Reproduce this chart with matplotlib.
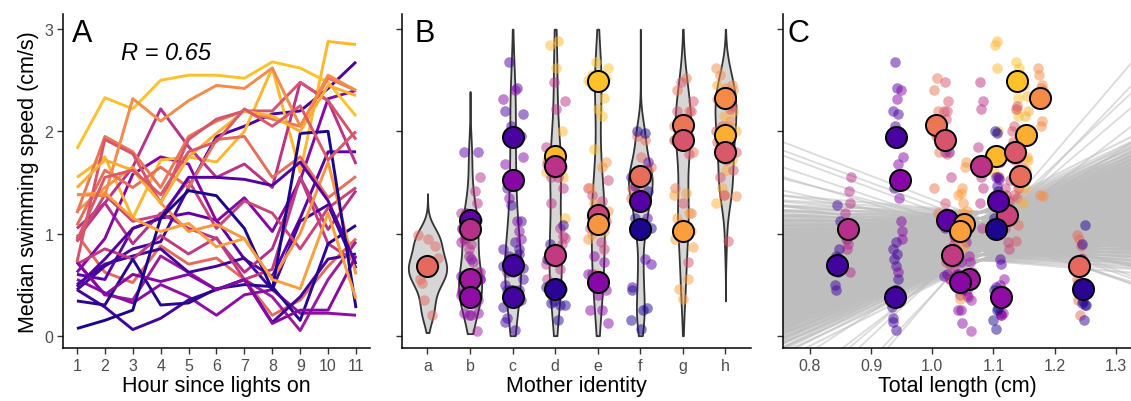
import numpy as np
import matplotlib.pyplot as plt

plt.rcParams['font.family'] = ['Liberation Sans', 'DejaVu Sans']

# ------------------- data -------------------
hours = list(range(1, 12))
mothers = ['a', 'b', 'c', 'd', 'e', 'f', 'g', 'h']

# one entry per fish
fish_mother = ['a', 'b', 'b', 'b', 'b', 'c', 'c', 'c', 'c', 'd', 'd', 'd', 'd',
               'e', 'e', 'e', 'e', 'f', 'f', 'f', 'g', 'g', 'g', 'h', 'h', 'h']
fish_length = [1.240, 1.024, 0.862, 1.060, 1.113, 0.940, 0.947, 0.845, 0.939,
               1.105, 1.079, 1.033, 1.247, 1.138, 1.123, 1.052, 1.045,
               1.143, 1.108, 1.104, 1.006, 1.021, 1.046, 1.177, 1.153, 1.135]
fish_median = [0.68, 1.13, 1.04, 0.55, 0.38, 1.94, 1.52, 0.69, 0.38,
               1.76, 1.66, 0.79, 0.46, 2.49, 1.18, 1.09, 0.53,
               1.56, 1.32, 1.04, 2.06, 1.92, 1.02, 2.33, 1.96, 1.80]
fish_colour = [0.62, 0.17, 0.42, 0.34, 0.30, 0.12, 0.27, 0.10, 0.10,
               0.84, 0.43, 0.46, 0.05, 0.87, 0.49, 0.75, 0.28,
               0.63, 0.15, 0.02, 0.66, 0.55, 0.78, 0.72, 0.82, 0.56]

# median speed per hour (cm/s), hours 1..11
speed_by_hour = [
    [0.99, 0.62, 0.52, 0.88, 0.70, 0.76, 0.55, 0.20, 0.35, 0.68, 0.95],   # a
    [0.60, 0.55, 1.05, 1.15, 1.20, 1.13, 0.75, 0.58, 1.15, 1.80, 1.80],   # b
    [0.95, 1.30, 0.90, 1.20, 1.05, 0.95, 0.62, 0.85, 1.55, 1.04, 1.42],
    [0.72, 0.40, 0.35, 0.78, 0.62, 0.45, 0.55, 0.38, 0.05, 0.55, 0.92],
    [0.55, 0.42, 0.32, 0.50, 0.38, 0.20, 0.40, 0.45, 0.22, 0.22, 0.20],
    [0.45, 0.68, 0.85, 0.92, 1.45, 1.95, 2.05, 2.17, 2.20, 2.42, 2.68],   # c
    [0.62, 0.95, 1.58, 1.75, 1.68, 1.12, 1.35, 1.02, 1.52, 2.32, 2.40],
    [0.50, 0.70, 0.78, 0.85, 0.62, 0.68, 0.76, 0.45, 1.12, 1.28, 0.66],
    [0.45, 0.28, 0.06, 0.17, 0.35, 0.45, 0.55, 0.13, 0.38, 0.75, 0.80],
    [1.55, 1.75, 1.15, 1.72, 1.75, 1.70, 2.00, 2.62, 1.60, 2.88, 2.85],   # d
    [1.05, 1.30, 1.65, 2.22, 1.85, 1.55, 1.68, 1.45, 2.48, 2.30, 1.68],
    [0.70, 0.85, 0.75, 0.98, 0.80, 0.96, 0.55, 0.65, 1.55, 0.90, 0.72],
    [0.34, 0.30, 0.75, 0.30, 0.32, 0.46, 0.50, 0.48, 0.15, 0.90, 1.08],
    [1.83, 2.33, 2.22, 2.50, 2.55, 2.55, 2.52, 2.68, 2.62, 2.48, 2.15],   # e
    [0.92, 1.38, 1.12, 1.18, 1.52, 1.05, 1.32, 1.20, 0.85, 1.25, 1.45],
    [1.22, 1.45, 1.65, 1.30, 1.02, 1.09, 0.95, 0.55, 1.00, 1.70, 0.60],
    [0.72, 0.40, 0.60, 0.53, 0.60, 0.45, 0.55, 0.12, 0.25, 0.25, 0.78],
    [1.08, 1.62, 1.45, 1.65, 1.45, 1.92, 1.95, 1.55, 1.75, 1.35, 1.56],   # f
    [0.48, 0.75, 1.05, 1.15, 1.55, 1.55, 1.53, 1.47, 1.70, 1.32, 0.70],
    [0.07, 0.15, 0.25, 1.15, 1.42, 1.37, 1.05, 0.45, 1.98, 2.00, 0.27],
    [1.20, 1.95, 1.80, 1.45, 1.95, 2.10, 2.20, 2.12, 2.05, 2.52, 2.40],   # g
    [0.72, 1.92, 1.78, 1.30, 1.92, 2.12, 2.20, 2.20, 2.48, 2.30, 1.92],
    [1.38, 1.40, 1.15, 1.02, 1.10, 0.87, 0.95, 0.55, 0.46, 1.20, 0.36],
    [1.38, 1.37, 2.32, 2.10, 2.30, 2.45, 2.42, 2.62, 2.05, 2.55, 2.40],   # h
    [1.45, 1.72, 1.62, 1.30, 1.75, 1.98, 2.20, 2.15, 2.00, 2.45, 2.35],
    [0.93, 1.55, 1.62, 1.38, 1.80, 1.90, 2.22, 2.05, 2.25, 1.72, 2.00],
]

# violin extents per mother
violin_lo = [0.03, 0.02, 0.0, 0.0, 0.0, 0.0, 0.0, 0.34]
violin_hi = [1.39, 2.39, 3.0, 3.0, 3.0, 3.0, 3.0, 3.0]

# posterior regression lines for panel C (value at fit_x0, slope)
fit_x0 = 1.08
fit_intercepts = [0.74, 0.79, 0.83, 0.86, 0.89, 0.92, 0.95, 0.98, 1.01,
                  1.04, 1.07, 1.11, 1.15, 1.21]
fit_slopes = [-0.5, -0.35, -0.2, -0.05, 0.1, 0.25, 0.4, 0.55, 0.7, 0.85, 1.0,
              1.15, 1.3, 1.45, 1.6, 1.75, 1.9, 2.05, 2.2, 2.35, 2.5, 2.65,
              2.8, 3.0]
# the few draws outside the dense band
fit_outer_a = [1.15, 1.10, 1.05, 1.00, 0.95, 0.95, 0.90, 1.00, 0.98, 0.92,
               1.05, 1.00, 0.97, 1.08, 0.93]
fit_outer_b = [-2.3, -2.2, -1.5, -1.3, -1.0, 7.0, 6.3, 5.6, 5.1, 4.6,
               -2.2, -2.0, -1.8, -0.9, 3.9]

# fixed jitter pattern (positions only)
jitter = [-0.20, 0.06, -0.12, 0.17, -0.03, 0.22, -0.17, 0.10, -0.08, 0.14, 0.01]

# ------------------- style -------------------
cmap = plt.cm.plasma
tick_col = '#4d4d4d'
title_fs = 15.5
tick_fs = 11.5
small_s = 58
big_s = 230

fig = plt.figure(figsize=(11.31, 4.02), dpi=100)
axA = fig.add_axes([0.0557, 0.132, 0.2714, 0.831])
axB = fig.add_axes([0.3554, 0.132, 0.3086, 0.831])
axC = fig.add_axes([0.6923, 0.132, 0.3077, 0.831])

for ax in (axA, axB, axC):
    for s in ('top', 'right'):
        ax.spines[s].set_visible(False)
    for s in ('left', 'bottom'):
        ax.spines[s].set_linewidth(1.1)
    ax.tick_params(length=4, width=1.0, color='#333333', labelcolor=tick_col,
                   labelsize=tick_fs, pad=3)
    ax.set_ylim(-0.12, 3.15)
    ax.set_yticks([0, 1, 2, 3])

# ------------------- panel A -------------------
for i, sp in enumerate(speed_by_hour):
    axA.plot(hours, sp, color=cmap(fish_colour[i]), lw=2.1, solid_capstyle='butt')
axA.set_xlim(0.5, 11.5)
axA.set_xticks(hours)
axA.set_xlabel('Hour since lights on', fontsize=title_fs, labelpad=2)
axA.set_ylabel('Median swimming speed (cm/s)', fontsize=title_fs, labelpad=4)
axA.text(0.03, 0.919, 'A', transform=axA.transAxes, fontsize=22)
axA.text(0.189, 0.865, 'R = 0.65', transform=axA.transAxes, fontsize=17,
         style='italic')

# ------------------- panel B -------------------
def kde(vals, grid):
    vals = np.asarray(vals)
    n = len(vals)
    sd = vals.std(ddof=1)
    q75, q25 = np.percentile(vals, [75, 25])
    bw = 0.9 * min(sd, (q75 - q25) / 1.34) * n ** -0.2
    z = (grid[:, None] - vals[None, :]) / bw
    return np.exp(-0.5 * z ** 2).sum(axis=1) / (n * bw * np.sqrt(2 * np.pi))

dens = []
for k, m in enumerate(mothers):
    vals = [v for i, sp in enumerate(speed_by_hour) if fish_mother[i] == m for v in sp]
    grid = np.linspace(violin_lo[k], violin_hi[k], 300)
    dens.append((grid, kde(vals, grid)))
dmax = max(d.max() for _, d in dens)
for k, (grid, d) in enumerate(dens):
    w = d / dmax * 0.45
    axB.fill_betweenx(grid, k + 1 - w, k + 1 + w, facecolor='#d6d6d6',
                      edgecolor='#333333', lw=1.3, zorder=1)

for i, sp in enumerate(speed_by_hour):
    xc = mothers.index(fish_mother[i]) + 1
    xs = [xc + 1.1 * jitter[(h + 4 * i) % 11] for h in range(11)]
    axB.scatter(xs, sp, s=small_s, color=cmap(fish_colour[i]), alpha=0.5,
                lw=0, zorder=2)
for i in range(len(fish_median)):
    xc = mothers.index(fish_mother[i]) + 1
    axB.scatter(xc, fish_median[i], s=big_s, color=cmap(fish_colour[i]),
                edgecolor='black', lw=1.4, zorder=3)
axB.set_xlim(0.4, 8.6)
axB.set_xticks(range(1, 9))
axB.set_xticklabels(mothers)
axB.set_yticklabels([])
axB.set_xlabel('Mother identity', fontsize=title_fs, labelpad=2)
axB.text(0.037, 0.919, 'B', transform=axB.transAxes, fontsize=22)

# ------------------- panel C -------------------
xx = np.array([0.7, 1.4])
for a in fit_intercepts:
    for b in fit_slopes:
        axC.plot(xx, a + b * (xx - fit_x0), color='#bebebe', alpha=0.55,
                 lw=1.6, zorder=1)
for a, b in zip(fit_outer_a, fit_outer_b):
    axC.plot(xx, a + b * (xx - fit_x0), color='#bebebe', alpha=0.55,
             lw=1.3, zorder=1)
for i, sp in enumerate(speed_by_hour):
    xs = [fish_length[i] + 0.02 * jitter[(h + 4 * i) % 11] for h in range(11)]
    axC.scatter(xs, sp, s=small_s, color=cmap(fish_colour[i]), alpha=0.5,
                lw=0, zorder=2)
for i in range(len(fish_median)):
    axC.scatter(fish_length[i], fish_median[i], s=big_s, color=cmap(fish_colour[i]),
                edgecolor='black', lw=1.4, zorder=3)
axC.set_xlim(0.756, 1.325)
axC.set_xticks([0.8, 0.9, 1.0, 1.1, 1.2, 1.3])
axC.set_xticklabels(['0.8', '0.9', '1.0', '1.1', '1.2', '1.3'])
axC.set_yticklabels([])
axC.set_xlabel('Total length (cm)', fontsize=title_fs, labelpad=2)
axC.text(0.014, 0.919, 'C', transform=axC.transAxes, fontsize=22)

fig.savefig('out.png', dpi=100)
